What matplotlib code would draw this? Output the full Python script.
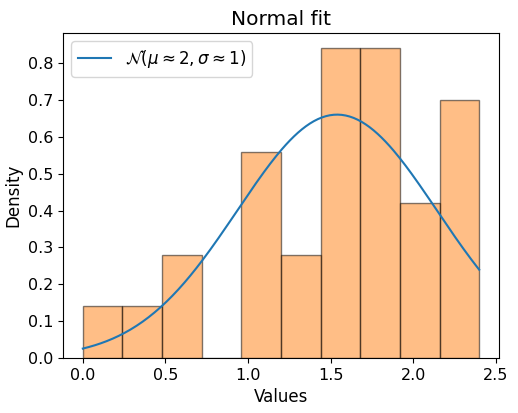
import numpy as np
import matplotlib
matplotlib.use("Agg")
import matplotlib.pyplot as plt

# Histogram data (density per bin)
bin_edges = [0.0, 0.24, 0.48, 0.72, 0.96, 1.20, 1.44, 1.68, 1.92, 2.16, 2.40]
densities = [0.14, 0.14, 0.28, 0.0, 0.56, 0.28, 0.84, 0.84, 0.42, 0.70]

# Normal fit parameters
mu = 1.54
sigma = 0.604
fit_label = r'$\mathcal{N}(\mu \approx 2, \sigma \approx 1)$'

fig = plt.figure(figsize=(5.18, 4.13), dpi=100)
ax = fig.add_axes([63/518, 1 - 358/413, (499-63)/518, (358-33)/413])

edges = np.array(bin_edges)
widths = np.diff(edges)
ax.bar(edges[:-1], densities, width=widths, align='edge',
       color='C1', alpha=0.5, edgecolor='black', linewidth=1.0)

xs = np.linspace(edges[0], edges[-1], 200)
pdf = np.exp(-0.5 * ((xs - mu) / sigma) ** 2) / (sigma * np.sqrt(2 * np.pi))
ax.plot(xs, pdf, color='C0', linewidth=1.5, label=fit_label)

ax.set_title('Normal fit', fontsize=14.5)
ax.set_xlabel('Values', fontsize=12)
ax.set_ylabel('Density', fontsize=12)
ax.tick_params(labelsize=11.5)
ax.legend(loc='upper left', fontsize=12)

fig.savefig('out.png', dpi=100)
